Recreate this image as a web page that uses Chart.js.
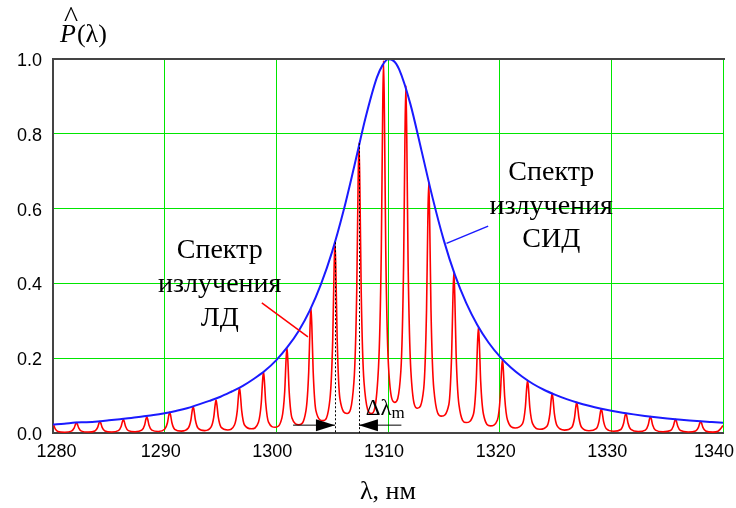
<!DOCTYPE html>
<html>
<head>
<meta charset="utf-8">
<script src="https://cdn.jsdelivr.net/npm/chart.js@4.4.1/dist/chart.umd.min.js"></script>
<style>
  html, body { margin: 0; padding: 0; background: #fff; }
  canvas { display: block; }
</style>
</head>
<body>
<canvas id="spectrum" width="736" height="508"></canvas>
<script>
// LED spectrum (envelope)
const blueWl = [
  1280, 1281, 1282, 1283, 1284, 1285, 1286, 1287, 1288, 1289,
  1290, 1291, 1292, 1293, 1294, 1295, 1296, 1297, 1298, 1299,
  1300, 1301, 1302, 1303, 1304, 1305, 1306, 1307, 1308, 1309, 1309.5,
  1310, 1310.5, 1311, 1312, 1313, 1314, 1315, 1316, 1317, 1318, 1319,
  1320, 1321, 1322, 1323, 1324, 1325, 1326, 1327, 1328, 1329,
  1330, 1331, 1332, 1333, 1334, 1335, 1336, 1337, 1338, 1339, 1340
];
const blueVal = [
  0.023, 0.025, 0.028, 0.029, 0.031, 0.034, 0.037, 0.040, 0.044, 0.048,
  0.053, 0.059, 0.066, 0.076, 0.086, 0.097, 0.111, 0.126, 0.145, 0.167,
  0.195, 0.230, 0.273, 0.328, 0.398, 0.485, 0.592, 0.716, 0.844, 0.950, 0.983,
  0.999, 0.995, 0.972, 0.880, 0.755, 0.628, 0.515, 0.422, 0.348, 0.289, 0.242,
  0.205, 0.175, 0.151, 0.131, 0.115, 0.102, 0.0905, 0.0809, 0.0728, 0.0657,
  0.0597, 0.0544, 0.0498, 0.0457, 0.0421, 0.0389, 0.0361, 0.0335, 0.0312, 0.0292, 0.0273
];

// LD spectrum (longitudinal modes), one line per mode: trough, then the peak
const redWl = [
  1280.0, 1280.08, 1280.2, 1280.45,
  1281.05, 1281.65, 1281.9, 1282.02, 1282.1, 1282.18, 1282.3, 1282.55,
  1283.15, 1283.75, 1284.0, 1284.12, 1284.2, 1284.28, 1284.4, 1284.65,
  1285.25, 1285.85, 1286.1, 1286.22, 1286.3, 1286.38, 1286.5, 1286.75,
  1287.35, 1287.95, 1288.2, 1288.32, 1288.4, 1288.48, 1288.6, 1288.85,
  1289.43, 1290.0, 1290.25, 1290.37, 1290.45, 1290.53, 1290.65, 1290.9,
  1291.5, 1292.1, 1292.35, 1292.47, 1292.55, 1292.63, 1292.75, 1293.0,
  1293.58, 1294.15, 1294.4, 1294.52, 1294.6, 1294.68, 1294.8, 1295.05,
  1295.65, 1296.25, 1296.5, 1296.62, 1296.7, 1296.78, 1296.9, 1297.15,
  1297.78, 1298.4, 1298.65, 1298.77, 1298.85, 1298.93, 1299.05, 1299.3,
  1299.9, 1300.5, 1300.75, 1300.87, 1300.95, 1301.03, 1301.15, 1301.4,
  1302.03, 1302.65, 1302.9, 1303.02, 1303.1, 1303.18, 1303.3, 1303.55,
  1304.18, 1304.8, 1305.05, 1305.17, 1305.25, 1305.33, 1305.45, 1305.7,
  1306.33, 1306.95, 1307.2, 1307.32, 1307.4, 1307.48, 1307.6, 1307.85,
  1308.5, 1309.15, 1309.4, 1309.52, 1309.6, 1309.68, 1309.8, 1310.05,
  1310.6, 1311.15, 1311.4, 1311.52, 1311.6, 1311.68, 1311.8, 1312.05,
  1312.63, 1313.2, 1313.45, 1313.57, 1313.65, 1313.73, 1313.85, 1314.1,
  1314.78, 1315.45, 1315.7, 1315.82, 1315.9, 1315.98, 1316.1, 1316.35,
  1317.0, 1317.65, 1317.9, 1318.02, 1318.1, 1318.18, 1318.3, 1318.55,
  1319.18, 1319.8, 1320.05, 1320.17, 1320.25, 1320.33, 1320.45, 1320.7,
  1321.38, 1322.05, 1322.3, 1322.42, 1322.5, 1322.58, 1322.7, 1322.95,
  1323.6, 1324.25, 1324.5, 1324.62, 1324.7, 1324.78, 1324.9, 1325.15,
  1325.8, 1326.45, 1326.7, 1326.82, 1326.9, 1326.98, 1327.1, 1327.35,
  1328.0, 1328.65, 1328.9, 1329.02, 1329.1, 1329.18, 1329.3, 1329.55,
  1330.2, 1330.85, 1331.1, 1331.22, 1331.3, 1331.38, 1331.5, 1331.75,
  1332.4, 1333.05, 1333.3, 1333.42, 1333.5, 1333.58, 1333.7, 1333.95,
  1334.63, 1335.3, 1335.55, 1335.67, 1335.75, 1335.83, 1335.95, 1336.2,
  1336.88, 1337.55, 1337.8, 1337.92, 1338.0, 1338.08, 1338.2, 1338.45,
  1339.1, 1339.55, 1339.8, 1340.0
];
const redVal = [
  0.023, 0.0196, 0.0112, 0.0041,
  0.0022, 0.0050, 0.0137, 0.0239, 0.028, 0.0239, 0.0137, 0.0050,
  0.0025, 0.0055, 0.0152, 0.0265, 0.031, 0.0265, 0.0152, 0.0055,
  0.0028, 0.0064, 0.0176, 0.0307, 0.036, 0.0307, 0.0176, 0.0064,
  0.0032, 0.0076, 0.0210, 0.0367, 0.043, 0.0367, 0.0210, 0.0076,
  0.0040, 0.0099, 0.0274, 0.0478, 0.056, 0.0478, 0.0274, 0.0099,
  0.0050, 0.0126, 0.0347, 0.0606, 0.071, 0.0606, 0.0347, 0.0126,
  0.0063, 0.0156, 0.0430, 0.0752, 0.088, 0.0752, 0.0430, 0.0156,
  0.0082, 0.0214, 0.0592, 0.103, 0.121, 0.103, 0.0592, 0.0214,
  0.0112, 0.0290, 0.0802, 0.140, 0.164, 0.140, 0.0802, 0.0290,
  0.0155, 0.0404, 0.111, 0.195, 0.228, 0.195, 0.111, 0.0404,
  0.0220, 0.0593, 0.164, 0.286, 0.335, 0.286, 0.164, 0.0593,
  0.0330, 0.0903, 0.249, 0.436, 0.510, 0.436, 0.249, 0.0903,
  0.052, 0.137, 0.379, 0.662, 0.775, 0.662, 0.379, 0.137,
  0.052, 0.176, 0.487, 0.850, 0.995, 0.850, 0.487, 0.176,
  0.082, 0.165, 0.455, 0.794, 0.930, 0.794, 0.455, 0.165,
  0.066, 0.119, 0.328, 0.573, 0.671, 0.573, 0.328, 0.119,
  0.045, 0.0763, 0.211, 0.368, 0.431, 0.368, 0.211, 0.0763,
  0.028, 0.0501, 0.138, 0.242, 0.283, 0.242, 0.138, 0.0501,
  0.019, 0.0349, 0.0963, 0.168, 0.197, 0.168, 0.0963, 0.0349,
  0.0135, 0.0250, 0.0689, 0.120, 0.141, 0.120, 0.0689, 0.0250,
  0.0100, 0.0188, 0.0518, 0.0905, 0.106, 0.0905, 0.0518, 0.0188,
  0.0076, 0.0145, 0.0401, 0.0700, 0.082, 0.0700, 0.0401, 0.0145,
  0.0059, 0.0115, 0.0318, 0.0555, 0.065, 0.0555, 0.0318, 0.0115,
  0.0048, 0.0094, 0.0259, 0.0453, 0.053, 0.0453, 0.0259, 0.0094,
  0.0039, 0.0078, 0.0215, 0.0376, 0.044, 0.0376, 0.0215, 0.0078,
  0.0033, 0.0065, 0.0179, 0.0313, 0.0367, 0.0313, 0.0179, 0.0065,
  0.0028, 0.0055, 0.0152, 0.0265, 0.031, 0.0265, 0.0152, 0.0055,
  0.0024, 0.0045, 0.012, 0.020
];

// mode spacing marker (the two modes between the dotted lines)
const markWl = [1305.25, 1307.4];
const markTop = [0.51, 0.775];

const xTicks = [1280, 1290, 1300, 1310, 1320, 1330, 1340];
const yTicks = [0, 0.2, 0.4, 0.6, 0.8, 1.0];

const serif = '"Liberation Serif", "Times New Roman", serif';
const sans = '"Liberation Sans", Arial, sans-serif';

// texts, leader lines, arrows and the top frame
const annotations = {
  id: 'annotations',
  afterDraw(chart) {
    const { ctx, chartArea: a, scales: { x, y } } = chart;
    ctx.save();

    // top frame
    ctx.strokeStyle = '#444';
    ctx.lineWidth = 2;
    ctx.beginPath();
    ctx.moveTo(a.left - 1, a.top);
    ctx.lineTo(a.right + 2, a.top);
    ctx.stroke();

    // dotted lines at two neighbouring modes
    ctx.strokeStyle = '#000';
    ctx.lineWidth = 1;
    ctx.setLineDash([2, 2]);
    markWl.forEach((w, i) => {
      const px = Math.round(x.getPixelForValue(w)) + 0.5;
      ctx.beginPath();
      ctx.moveTo(px, y.getPixelForValue(markTop[i]));
      ctx.lineTo(px, a.bottom);
      ctx.stroke();
    });
    ctx.setLineDash([]);

    // arrows
    const ay = y.getPixelForValue(0.021);
    const lTip = x.getPixelForValue(markWl[0]);
    const rTip = x.getPixelForValue(markWl[1]);
    ctx.beginPath();
    ctx.moveTo(x.getPixelForValue(1301.5), ay);
    ctx.lineTo(lTip, ay);
    ctx.moveTo(rTip, ay);
    ctx.lineTo(x.getPixelForValue(1311.2), ay);
    ctx.stroke();
    ctx.fillStyle = '#000';
    ctx.beginPath();
    ctx.moveTo(lTip, ay);
    ctx.lineTo(lTip - 19, ay - 6);
    ctx.lineTo(lTip - 19, ay + 6);
    ctx.closePath();
    ctx.fill();
    ctx.beginPath();
    ctx.moveTo(rTip, ay);
    ctx.lineTo(rTip + 19, ay - 6);
    ctx.lineTo(rTip + 19, ay + 6);
    ctx.closePath();
    ctx.fill();

    // Δλm
    ctx.textAlign = 'left';
    ctx.textBaseline = 'alphabetic';
    ctx.font = '23px ' + serif;
    const dx = x.getPixelForValue(1308.0);
    const dy = y.getPixelForValue(0.048);
    ctx.fillText('Δλ', dx, dy);
    const dw = ctx.measureText('Δλ').width;
    ctx.font = '17px ' + serif;
    ctx.fillText('m', dx + dw, dy + 3);

    // leader lines
    ctx.lineWidth = 1.5;
    ctx.strokeStyle = '#ff0000';
    ctx.beginPath();
    ctx.moveTo(x.getPixelForValue(1298.7), y.getPixelForValue(0.348));
    ctx.lineTo(x.getPixelForValue(1302.83), y.getPixelForValue(0.257));
    ctx.stroke();
    ctx.strokeStyle = '#1a1aff';
    ctx.beginPath();
    ctx.moveTo(x.getPixelForValue(1318.97), y.getPixelForValue(0.553));
    ctx.lineTo(x.getPixelForValue(1315.24), y.getPixelForValue(0.507));
    ctx.stroke();

    // labels of the two curves
    ctx.fillStyle = '#000';
    ctx.textAlign = 'center';
    ctx.font = '28px ' + serif;
    const ldX = x.getPixelForValue(1294.93);
    ['Спектр', 'излучения', 'ЛД'].forEach((t, i) => {
      ctx.fillText(t, ldX, y.getPixelForValue([0.468, 0.377, 0.286][i]));
    });
    const ledX = x.getPixelForValue(1324.62);
    ['Спектр', 'излучения', 'СИД'].forEach((t, i) => {
      ctx.fillText(t, ledX, y.getPixelForValue([0.676, 0.586, 0.497][i]));
    });

    // y axis title P̂(λ)
    ctx.textAlign = 'left';
    ctx.font = 'italic 26px ' + serif;
    ctx.fillText('P', 60, 42);
    const pw = ctx.measureText('P').width;
    ctx.font = '30px ' + serif;
    ctx.fillText('^', 64, 27);
    ctx.font = '26px ' + serif;
    ctx.fillText('(λ)', 60 + pw + 1, 42);

    ctx.restore();
  }
};

new Chart(document.getElementById('spectrum').getContext('2d'), {
  type: 'line',
  data: {
    datasets: [
      {
        label: 'Спектр излучения СИД',
        data: blueWl.map((w, i) => ({ x: w, y: blueVal[i] })),
        borderColor: '#1a1aff',
        borderWidth: 2,
        pointRadius: 0,
        cubicInterpolationMode: 'monotone'
      },
      {
        label: 'Спектр излучения ЛД',
        data: redWl.map((w, i) => ({ x: w, y: redVal[i] })),
        borderColor: '#ff0000',
        borderWidth: 1.6,
        pointRadius: 0,
        cubicInterpolationMode: 'monotone'
      }
    ]
  },
  options: {
    responsive: false,
    animation: false,
    layout: { padding: { top: 59, right: 13, left: 0, bottom: 0 } },
    plugins: { legend: { display: false }, tooltip: { enabled: false } },
    scales: {
      x: {
        type: 'linear',
        min: xTicks[0],
        max: xTicks[xTicks.length - 1],
        afterBuildTicks: s => { s.ticks = xTicks.map(v => ({ value: v })); },
        ticks: {
          padding: 8,
          labelOffset: -4,
          color: '#000',
          font: { family: sans, size: 18 },
          maxRotation: 0,
          // first and last labels pulled inside the picture, as in the original
          callback: (v, i) => i === 0 ? '   ' + v : (i === xTicks.length - 1 ? v + '  ' : String(v))
        },
        grid: { color: '#00e600', lineWidth: 1, drawTicks: false },
        border: { color: '#444', width: 2 },
        title: {
          display: true,
          text: 'λ, нм',
          color: '#000',
          font: { family: serif, size: 26 },
          padding: { top: 0, bottom: 0 }
        },
        afterFit: s => { s.height = 75; s.paddingLeft = 0; s.paddingRight = 0; }
      },
      y: {
        min: 0,
        max: 1,
        afterBuildTicks: s => { s.ticks = yTicks.map(v => ({ value: v })); },
        ticks: {
          padding: 11,
          labelOffset: 2,
          color: '#000',
          font: { family: sans, size: 18 },
          callback: v => v.toFixed(1)
        },
        grid: { color: '#00e600', lineWidth: 1, drawTicks: false },
        border: { color: '#444', width: 2 },
        afterFit: s => { s.width = 53; s.paddingTop = 0; s.paddingBottom = 0; }
      }
    }
  },
  plugins: [annotations]
});
</script>
</body>
</html>
